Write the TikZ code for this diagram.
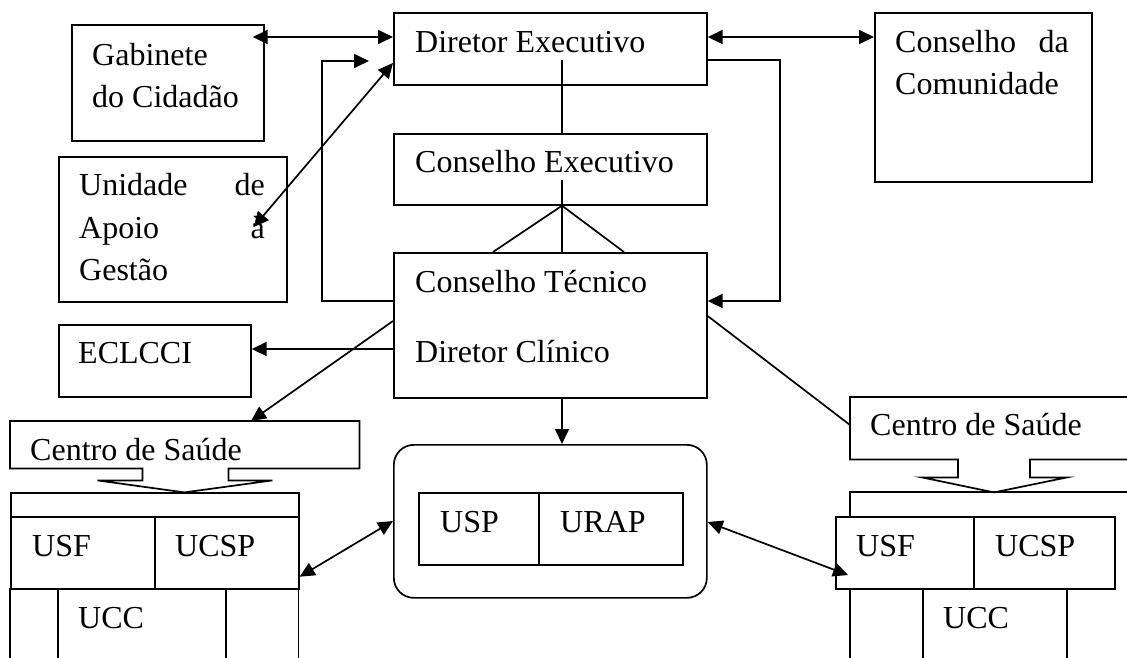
\documentclass[tikz,border=0pt]{standalone}
\usepackage{fontspec}
\setmainfont{Liberation Serif}
\usetikzlibrary{arrows.meta,calc}
\tikzset{
  box/.style={draw, line width=1.7pt, inner sep=0pt, anchor=north west},
  ghost/.style={inner sep=0pt, anchor=north west},
  txt/.style={anchor=base west, inner sep=0pt, font=\fontsize{32}{38}\selectfont},
  txte/.style={anchor=base east, inner sep=0pt, font=\fontsize{32}{38}\selectfont},
  ln/.style={line width=1.7pt},
  one/.style={line width=1.7pt, -{Triangle[length=15pt,width=14pt]}},
  two/.style={line width=1.7pt, {Triangle[length=15pt,width=14pt]}-{Triangle[length=15pt,width=14pt]}}
}
\begin{document}
\begin{tikzpicture}[x=1pt,y=-1pt]
\useasboundingbox (0,0) rectangle (1127,657);
\clip (0,0) rectangle (1127,657);
% boxes
\node[box, minimum width=192pt, minimum height=116pt] (gab) at (71,24) {};
\node[box, minimum width=228pt, minimum height=145pt] (uag) at (58,156) {};
\node[box, minimum width=313pt, minimum height=72pt] (de) at (393,12) {};
\node[box, minimum width=313pt, minimum height=71pt] (ce) at (393,133) {};
\node[box, minimum width=313pt, minimum height=145pt] (ct) at (393,252) {};
\node[box, minimum width=217pt, minimum height=169pt] (cdc) at (874,12) {};
\node[box, minimum width=192pt, minimum height=72pt] (ecl) at (58,324) {};
\node[box, rounded corners=20pt, minimum width=313pt, minimum height=153pt] (rb) at (393,444) {};
\node[box, minimum width=120pt, minimum height=72pt] (usp) at (418,492) {};
\node[box, minimum width=144pt, minimum height=72pt] (urap) at (538,492) {};
% left Centro de Saude callout
\node[ghost, minimum width=349pt, minimum height=47pt] (csL) at (10,421) {};
\draw[ln] (csL.south west) -- (csL.north west) -- (csL.north east) -- (csL.south east)
  -- ++(-131,0) -- ++(0,12) -- ++(44,0) -- ++(-88,12) -- ++(-87,-12) -- ++(45,0) -- ++(0,-12) -- cycle;
% left block
\node[box, minimum width=288pt, minimum height=24pt] (topL) at (10,492) {};
\node[box, minimum width=144pt, minimum height=72pt] (usfL) at (10,516) {};
\node[box, minimum width=144pt, minimum height=72pt] (ucspL) at (154,516) {};
\node[ghost, minimum width=288pt, minimum height=70pt] (botL) at (10,588) {};
\draw[ln] (botL.north west) -- (botL.south west);
\draw[ln] (botL.north east) -- (botL.south east);
\draw[ln] ($(botL.north west)+(48,0)$) -- ($(botL.south west)+(48,0)$);
\draw[ln] ($(botL.north west)+(216,0)$) -- ($(botL.south west)+(216,0)$);
% right Centro de Saude callout
\node[ghost, minimum width=280pt, minimum height=62pt] (csR) at (850,397) {};
\draw[ln] (csR.north east) -- (csR.north west) -- (csR.south west) -- ++(108,0) -- ++(0,18) -- ++(-36,0)
  -- ++(72,15) -- ++(73,-15) -- ++(-37,0) -- ++(0,-18) -- (csR.south east);
% right block
\node[ghost, minimum width=280pt, minimum height=24pt] (topR) at (850,492) {};
\draw[ln] (topR.south west) -- (topR.north west) -- (topR.north east);
\node[box, minimum width=138pt, minimum height=72pt] (usfR) at (835,516) {};
\node[box, minimum width=141pt, minimum height=72pt] (ucspR) at (973,516) {};
\node[ghost, minimum width=217pt, minimum height=70pt] (botR) at (850,588) {};
\draw[ln] (botR.north west) -- (botR.south west);
\draw[ln] ($(botR.north west)+(73,0)$) -- ($(botR.south west)+(73,0)$);
\draw[ln] ($(botR.north west)+(217,0)$) -- ($(botR.south west)+(217,0)$);
% texts
\node[txt] (t1) at (92,65) {Gabinete};
\node[txt] (t2) at (92,107) {do Cidadão};
\node[txt] (t3) at (79,195) {Unidade};
\node[txte] (t4) at (265,195) {de};
\node[txt] (t5) at (79,238) {Apoio};
\node[txte] (t6) at (265,238) {à};
\node[txt] (t7) at (79,280) {Gestão};
\node[txt] (t8) at (415,52) {Diretor Executivo};
\node[txt] (t9) at (415,172) {Conselho Executivo};
\node[txt] (t10) at (415,292) {Conselho Técnico};
\node[txt] (t11) at (415,362) {Diretor Clínico};
\node[txt] (t12) at (895,52) {Conselho};
\node[txte] (t13) at (1069,52) {da};
\node[txt] (t14) at (895,94) {Comunidade};
\node[txt] (t15) at (78,363) {ECLCCI};
\node[txt] (t16) at (30,460) {Centro de Saúde};
\node[txt] (t17) at (870,435) {Centro de Saúde};
\node[txt] (t18) at (32,556) {USF};
\node[txt] (t19) at (175,556) {UCSP};
\node[txt] (t20) at (78,628) {UCC};
\node[txt] (t21) at (440,532) {USP};
\node[txt] (t22) at (560,532) {URAP};
\node[txt] (t23) at (856,556) {USF};
\node[txt] (t24) at (995,556) {UCSP};
\node[txt] (t25) at (943,628) {UCC};
% connectors
\draw[two] ($(gab.north east)+(-12,13)$) -- ($(de.north west)+(0,25)$);
\draw[two] ($(de.north east)+(0,25)$) -- ($(cdc.north west)+(0,25)$);
\draw[ln] ($(de.north west)+(169,48)$) -- ($(ce.north west)+(169,0)$);
\draw[ln] ($(ce.north west)+(169,47)$) -- ($(ct.north west)+(169,0)$);
\draw[ln] ($(ct.north west)+(100,0)$) -- ($(ce.south west)+(169,0)$) -- ($(ct.north west)+(231,0)$);
\draw[one] ($(de.north east)+(0,48)$) -- ++(72,0) |- ($(ct.north east)+(0,49)$);
\draw[one] ($(ct.north west)+(0,49)$) -- ++(-71,0) |- ($(de.north west)+(-24,49)$);
\draw[two] ($(de.north west)+(0,51)$) -- ($(uag.north east)+(-34,71)$);
\draw[one] ($(ct.north west)+(0,97)$) -- ($(ecl.north east)+(0,25)$);
\draw[one] ($(ct.north west)+(0,69)$) -- ($(csL.north west)+(241,0)$);
\draw[one] ($(ct.south west)+(169,0)$) -- ($(rb.north west)+(169,0)$);
\draw[ln] ($(ct.north east)+(0,64)$) -- ($(csR.north west)+(0,28)$);
\draw[two] ($(ucspL.south east)+(0,-13)$) -- ($(rb.north west)+(0,77)$);
\draw[two] ($(rb.north east)+(0,78)$) -- ($(usfR.north west)+(13,59)$);
\end{tikzpicture}
\end{document}
